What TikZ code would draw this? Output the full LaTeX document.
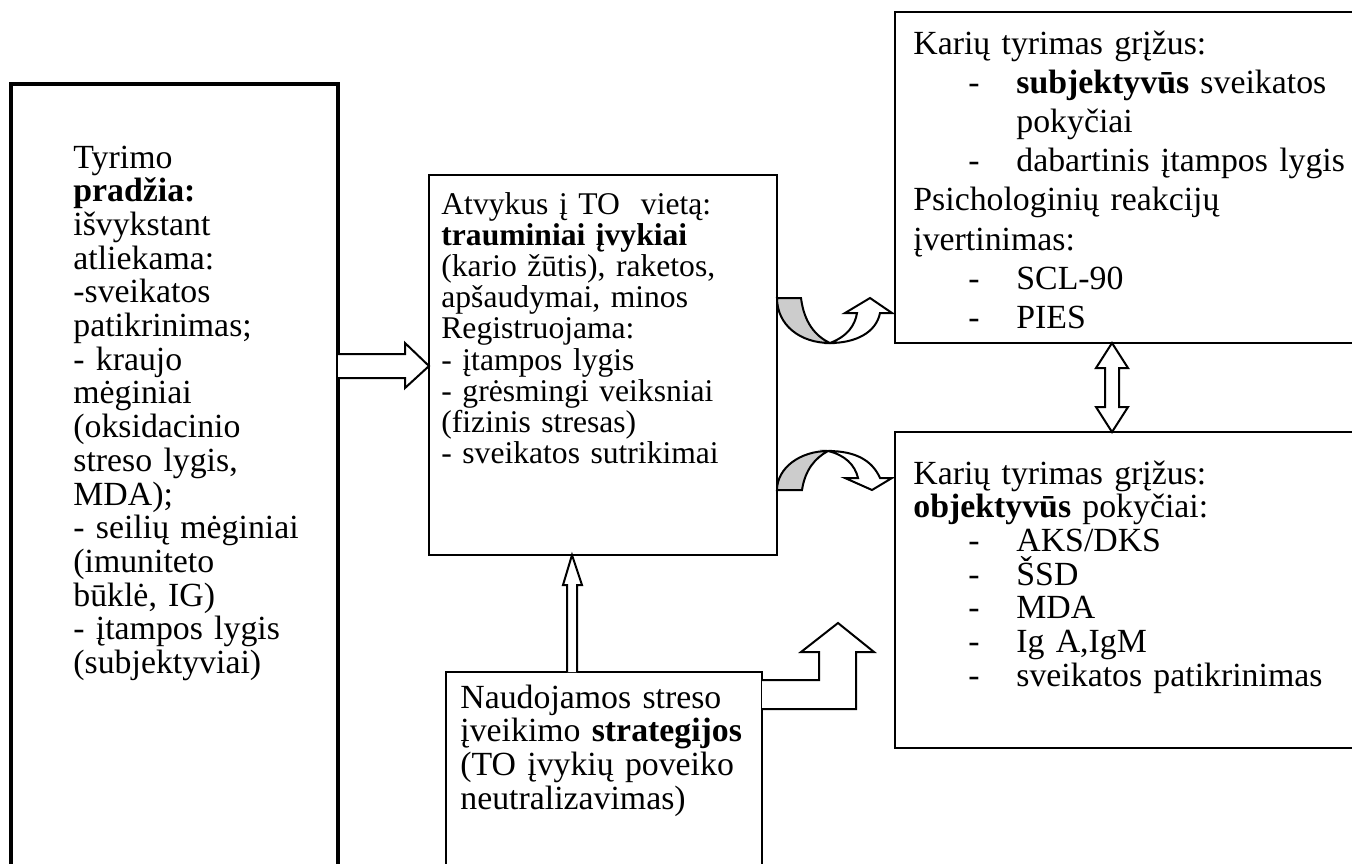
\documentclass[tikz,border=0pt]{standalone}
\usepackage{fontspec}
\setmainfont{Liberation Serif}
\newcommand{\litem}[1]{\hspace*{27.5pt}\makebox[24pt][l]{-}#1}
\newcommand{\lhang}[1]{\hspace*{51.5pt}#1}
\begin{document}
\begin{tikzpicture}[x=0.5pt,y=-0.5pt,
  box/.style={draw, line width=1pt, anchor=north west, inner sep=0pt, outer sep=0pt},
  txt/.style={anchor=base west, inner sep=0pt, align=left, text width=300pt,
              font=\fontsize{16.9}{16.85}\selectfont},
  txtwide/.style={txt, font=\fontsize{16.9}{19.6}\selectfont},
  txtmid/.style={txt, font=\fontsize{15.8}{15.6}\selectfont},
  blk/.style={draw, line width=1pt, fill=white, line join=miter},
  crease/.style={draw, line width=1pt, fill=black!20, line join=miter}]
\useasboundingbox (0,0) rectangle (1352,863);

% boxes
\node[box, line width=2pt, minimum width=163.5pt, minimum height=410pt] (start) at (11,84) {};
\node[box, minimum width=174pt, minimum height=190pt] (mid) at (429,175) {};
\node[box, minimum width=158pt, minimum height=114pt] (strat) at (446,672) {};
\node[box, minimum width=300pt, minimum height=165.5pt] (subj) at (895,12) {};
\node[box, minimum width=300pt, minimum height=158pt] (obj) at (895,432) {};

% texts
\node[txt] (tstart) at (73,168) {Tyrimo\\\textbf{pradžia:}\\išvykstant\\atliekama:\\-sveikatos\\patikrinimas;\\- kraujo\\mėginiai\\(oksidacinio\\streso lygis,\\MDA);\\- seilių mėginiai\\(imuniteto\\būklė, IG)\\- įtampos lygis\\(subjektyviai)};
\node[txtmid] (tmid) at (441,214) {Atvykus į TO\ \ vietą:\\\textbf{trauminiai įvykiai}\\(kario žūtis), raketos,\\apšaudymai, minos\\Registruojama:\\- įtampos lygis\\- grėsmingi veiksniai\\(fizinis stresas)\\- sveikatos sutrikimai};
\node[txt] (tstrat) at (460,708) {Naudojamos streso\\įveikimo \textbf{strategijos}\\(TO įvykių poveiko\\neutralizavimas)};
\node[txtwide] (tsubj) at (913,54) {Karių tyrimas grįžus:\\\litem{\textbf{subjektyvūs} sveikatos}\\\lhang{pokyčiai}\\\litem{dabartinis įtampos lygis}\\Psichologinių reakcijų\\įvertinimas:\\\litem{SCL-90}\\\litem{PIES}};
\node[txt] (tobj) at (913,484) {Karių tyrimas grįžus:\\\textbf{objektyvūs} pokyčiai:\\\litem{AKS/DKS}\\\litem{ŠSD}\\\litem{MDA}\\\litem{Ig A,IgM}\\\litem{sveikatos patikrinimas}};

% block arrow: start -> mid
\draw[blk] (start.east |- 0,354) -- (405,354) -- (405,343) -- (mid.west |- 0,366)
  -- (405,388) -- (405,378) -- (start.east |- 0,378);

% block arrow: strat -> mid (up)
\draw[blk] (567,0 |- strat.north) -- (567,585) -- (563,585) -- (572,0 |- mid.south)
  -- (582,585) -- (577,585) -- (577,0 |- strat.north);

% double arrow between subj and obj
\draw[blk] (1112,0 |- subj.south) -- (1128,368) -- (1119,368) -- (1119,407) -- (1128,407)
  -- (1112,0 |- obj.north) -- (1096,407) -- (1105,407) -- (1105,368) -- (1096,368) -- cycle;

% curved up arrow: mid -> subj
\draw[crease] (mid.east |- 0,298) -- (801,298) .. controls (804,322) and (815,336) .. (830,343)
  .. controls (800,343) and (777,325) .. cycle;
\draw[blk] (830,343) .. controls (848,336) and (855,325) .. (857,313) -- (845,313) -- (870,298)
  -- (892,313) -- (880,313) .. controls (876,333) and (855,343) .. (830,343) -- cycle;

% curved down arrow: mid -> obj
\draw[crease] (mid.east |- 0,490) -- (802,490) .. controls (805,470) and (815,458) .. (828,451)
  .. controls (800,451) and (777,468) .. cycle;
\draw[blk] (828,451) .. controls (845,455) and (855,465) .. (858,478) -- (845,478) -- (872,490)
  -- (892,478) -- (880,478) .. controls (872,460) and (855,451) .. (828,451) -- cycle;

% bent up arrow: strat -> obj
\draw[blk] (strat.east |- 0,680) -- (819,680) -- (819,652) -- (801,652) -- (838,623)
  -- (874,652) -- (856,652) -- (856,709) -- (strat.east |- 0,709);
\end{tikzpicture}
\end{document}
